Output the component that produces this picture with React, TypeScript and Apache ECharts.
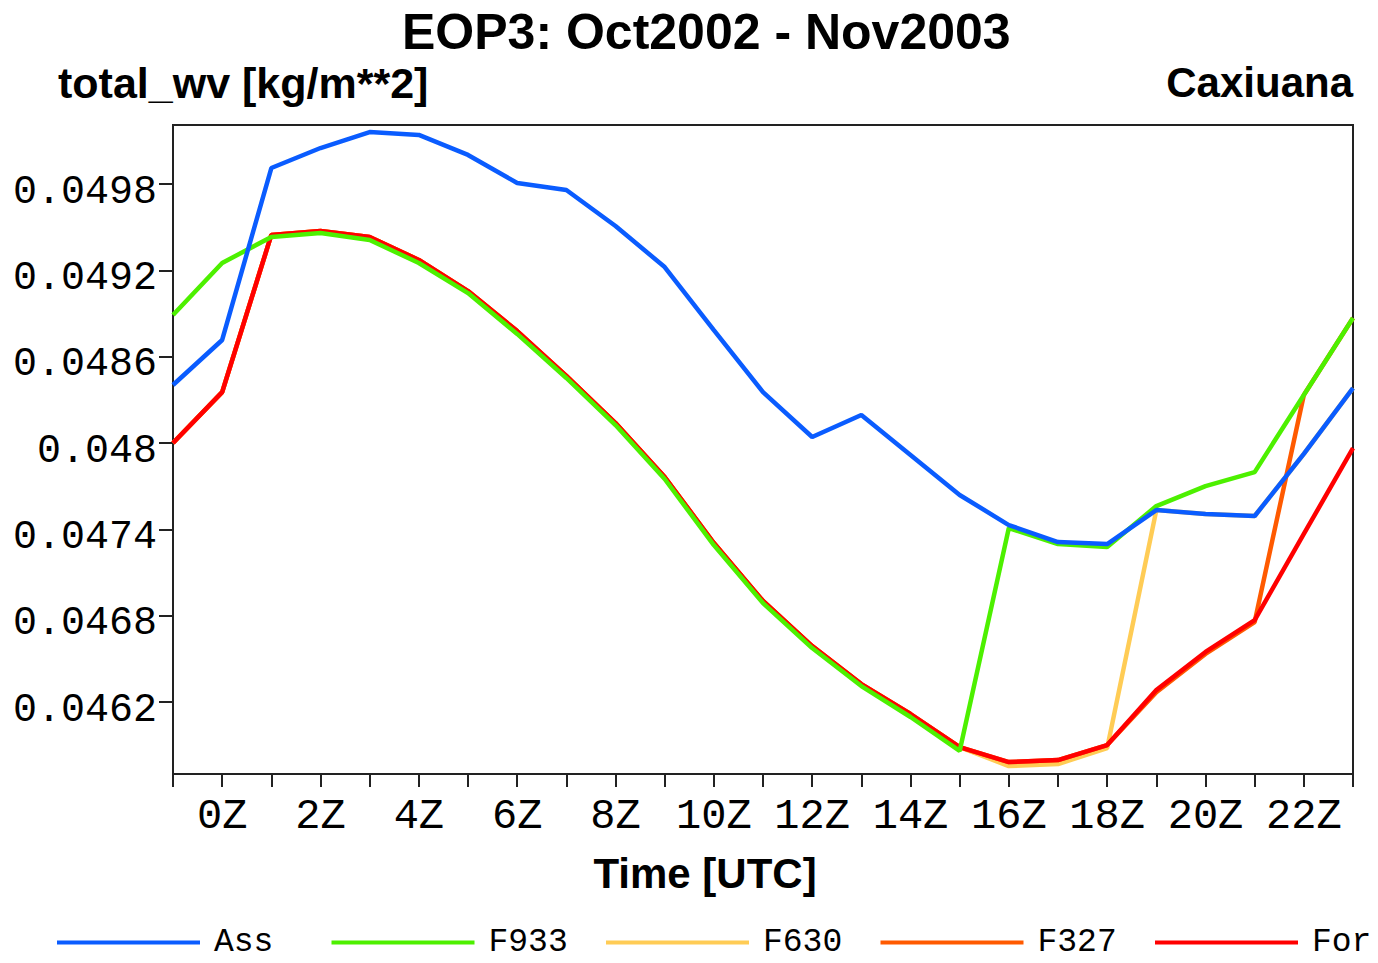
import React, { useEffect, useRef } from "react";
import * as echarts from "echarts";

// Hours (UTC) of the mean diurnal cycle; -1 is 23Z of the previous day
const HOURS = [-1, 0, 1, 2, 3, 4, 5, 6, 7, 8, 9, 10, 11, 12, 13, 14, 15, 16, 17, 18, 19, 20, 21, 22, 23];

const ASS = [
  0.048403, 0.048716, 0.049911, 0.05005, 0.050161, 0.050141, 0.050002, 0.049807, 0.049758,
  0.049508, 0.049223, 0.048785, 0.048354, 0.048042, 0.048195, 0.047917, 0.047639, 0.04743,
  0.047312, 0.047298, 0.047534, 0.047507, 0.047493, 0.047924, 0.048382,
];

const F933 = [
  0.04889, 0.049251, 0.049432, 0.049459, 0.049411, 0.049251, 0.049042, 0.048758, 0.048452,
  0.048125, 0.04775, 0.047291, 0.046888, 0.046575, 0.046311, 0.046096, 0.04586, 0.047409,
  0.047298, 0.047277, 0.047562, 0.047701, 0.047798, 0.048334, 0.048869,
];

const F630 = [
  0.048, 0.048354, 0.049446, 0.049473, 0.049432, 0.049272, 0.049056, 0.048778, 0.048466,
  0.048139, 0.047764, 0.047305, 0.046902, 0.046589, 0.046325, 0.046117, 0.045887, 0.045755,
  0.045769, 0.04588, 0.047534, 0.047507, 0.047493, 0.047924, 0.048382,
];

const F327 = [
  0.048, 0.048354, 0.049446, 0.049473, 0.049432, 0.049272, 0.049056, 0.048778, 0.048466,
  0.048139, 0.047764, 0.047305, 0.046902, 0.046589, 0.046325, 0.046117, 0.045887, 0.045783,
  0.045797, 0.045901, 0.046269, 0.046534, 0.046756, 0.048334, 0.048869,
];

const FOR = [
  0.048, 0.048354, 0.049446, 0.049473, 0.049432, 0.049272, 0.049056, 0.048778, 0.048466,
  0.048139, 0.047764, 0.047305, 0.046902, 0.046589, 0.046325, 0.046117, 0.045887, 0.045783,
  0.045797, 0.045901, 0.046283, 0.046548, 0.04677, 0.047368, 0.047965,
];

const Y_TICKS = [0.0462, 0.0468, 0.0474, 0.048, 0.0486, 0.0492, 0.0498];
const Y_MIN = 0.0457;
const Y_MAX = 0.05021;

const LEGEND_ORDER = ["Ass", "F933", "F630", "F327", "For"];

// Drawn bottom to top
const SERIES = [
  { name: "F630", values: F630, color: "#ffcc55" },
  { name: "F327", values: F327, color: "#ff5a00" },
  { name: "For", values: FOR, color: "#ff0000" },
  { name: "F933", values: F933, color: "#4df000" },
  { name: "Ass", values: ASS, color: "#0a5cff" },
];

const MONO = "'Liberation Mono', 'DejaVu Sans Mono', monospace";
const SANS = "'Liberation Sans', Arial, sans-serif";

export default function App() {
  const ref = useRef<HTMLDivElement>(null);

  useEffect(() => {
    if (!ref.current) return;
    const chart = echarts.init(ref.current, null, { renderer: "svg" });

    const headText = { fontFamily: SANS, fontWeight: "bold", color: "#000" };

    chart.setOption({
      animation: false,
      backgroundColor: "#fff",
      title: [
        {
          text: "EOP3: Oct2002 - Nov2003",
          left: 402,
          top: 7,
          padding: 0,
          textStyle: { ...headText, fontSize: 50 },
        },
        {
          text: "total_wv [kg/m**2]",
          left: 58,
          top: 61,
          padding: 0,
          textStyle: { ...headText, fontSize: 43 },
        },
        {
          text: "Caxiuana",
          right: 25,
          top: 61,
          padding: 0,
          textStyle: { ...headText, fontSize: 42 },
        },
      ],
      legend: LEGEND_ORDER.map((name, i) => ({
        data: [name],
        left: 57 + i * 274.5,
        top: 926,
        padding: 0,
        icon: "rect",
        itemWidth: 143,
        itemHeight: 4,
        selectedMode: false,
        textStyle: {
          fontFamily: MONO,
          fontSize: 33,
          color: "#000",
          padding: [0, 0, 0, 9],
        },
      })),
      grid: {
        left: 173,
        top: 125,
        right: 25,
        bottom: 189,
        show: true,
        borderColor: "#222",
        borderWidth: 2,
        outerBoundsMode: "none",
      },
      xAxis: {
        type: "value",
        min: -1,
        max: 23,
        interval: 1,
        name: "Time [UTC]",
        nameLocation: "middle",
        nameGap: 78,
        nameTextStyle: {
          ...headText,
          fontSize: 42,
          padding: [0, 116, 0, 0],
        },
        axisLine: { show: true, onZero: false, lineStyle: { color: "#222", width: 2 } },
        axisTick: { show: true, length: 13, lineStyle: { color: "#222", width: 2 } },
        axisLabel: {
          fontFamily: MONO,
          fontSize: 42,
          color: "#000",
          margin: 22,
          formatter: (v: number) => (v >= 0 && v % 2 === 0 ? `${v}Z` : ""),
        },
        splitLine: { show: false },
      },
      yAxis: {
        type: "value",
        min: Y_MIN,
        max: Y_MAX,
        axisLine: { show: true, onZero: false, lineStyle: { color: "#222", width: 2 } },
        axisTick: {
          show: true,
          length: 14,
          customValues: Y_TICKS,
          lineStyle: { color: "#222", width: 2 },
        },
        axisLabel: {
          customValues: Y_TICKS,
          fontFamily: MONO,
          fontSize: 40,
          color: "#000",
          margin: 16,
          verticalAlign: "top",
          lineHeight: 16,
          formatter: (v: number) => String(v),
        },
        splitLine: { show: false },
      },
      series: SERIES.map((s) => ({
        name: s.name,
        type: "line",
        showSymbol: false,
        symbol: "none",
        data: HOURS.map((h, i) => [h, s.values[i]]),
        lineStyle: { color: s.color, width: 4.5 },
        itemStyle: { color: s.color },
      })),
    });

    return () => chart.dispose();
  }, []);

  return (
    <div
      ref={ref}
      style={{ position: "fixed", left: 0, top: 0, width: 1378, height: 963 }}
    />
  );
}
